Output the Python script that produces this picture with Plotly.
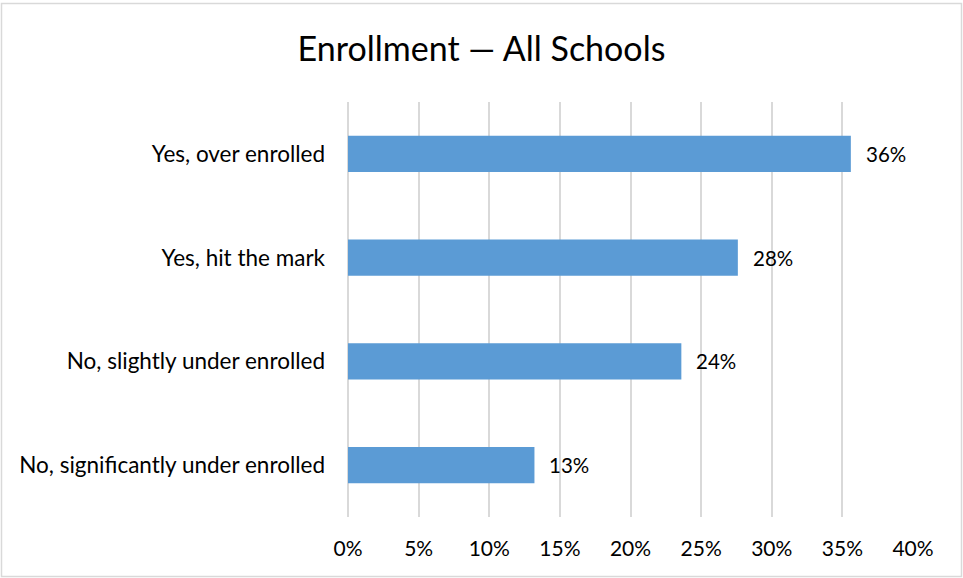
import plotly.graph_objects as go

# Survey responses, listed top to bottom
categories = [
    "Yes, over enrolled",
    "Yes, hit the mark",
    "No, slightly under enrolled",
    "No, significantly under enrolled",
]
shares = [0.356, 0.276, 0.236, 0.132]
x_ticks = [0, 0.05, 0.10, 0.15, 0.20, 0.25, 0.30, 0.35, 0.40]
x_tick_labels = ["0%", "5%", "10%", "15%", "20%", "25%", "30%", "35%", "40%"]

W, H = 963, 578
ML, MR, MT, MB = 348, 50, 102, 61
FONT = "Lato, Carlito, Calibri, sans-serif"
BAR_BLUE = "#5B9BD5"
GRID = "#D9D9D9"

fig = go.Figure(
    go.Bar(
        x=shares,
        y=categories,
        orientation="h",
        marker=dict(color=BAR_BLUE, line=dict(width=0)),
        hoverinfo="skip",
    )
)

# Value labels placed just beyond each bar end
for cat, v in zip(categories, shares):
    fig.add_annotation(
        x=v, y=cat, xref="x", yref="y",
        text=f"{v:.0%}", showarrow=False,
        xanchor="left", xshift=13,
        font=dict(family=FONT, size=20.5, color="#000000"),
    )

# Light grey frame around the whole chart
pw = W - ML - MR
ph = H - MT - MB
fig.add_shape(
    type="rect", xref="paper", yref="paper",
    x0=(1.5 - ML) / pw, x1=(W - 1.5 - ML) / pw,
    y0=-(MB - 1.5) / ph, y1=1 + (MT - 3.5) / ph,
    line=dict(color="#D9D9D9", width=1.5), layer="below",
)

fig.update_layout(
    width=W, height=H,
    margin=dict(l=ML, r=MR, t=MT, b=MB),
    paper_bgcolor="white", plot_bgcolor="white",
    title=dict(
        text="Enrollment — All Schools",
        x=0.5, xref="container", xanchor="center",
        y=1 - 49 / H, yanchor="middle",
        font=dict(family=FONT, size=34, color="#000000"),
    ),
    bargap=0.653,
    showlegend=False,
    xaxis=dict(
        range=[0, 0.40],
        tickvals=x_ticks, ticktext=x_tick_labels,
        showgrid=True, gridcolor=GRID, gridwidth=1.5,
        zeroline=True, zerolinecolor=GRID, zerolinewidth=1.5,
        showline=False, ticks="",
        tickfont=dict(family=FONT, size=21, color="#000000"),
        ticklabelstandoff=17,
    ),
    yaxis=dict(
        categoryorder="array", categoryarray=categories,
        autorange="reversed",
        showgrid=False, zeroline=False, showline=False, ticks="",
        tickfont=dict(family=FONT, size=22.5, color="#000000"),
        ticklabelstandoff=22,
    ),
)

fig.write_html("out.html")
